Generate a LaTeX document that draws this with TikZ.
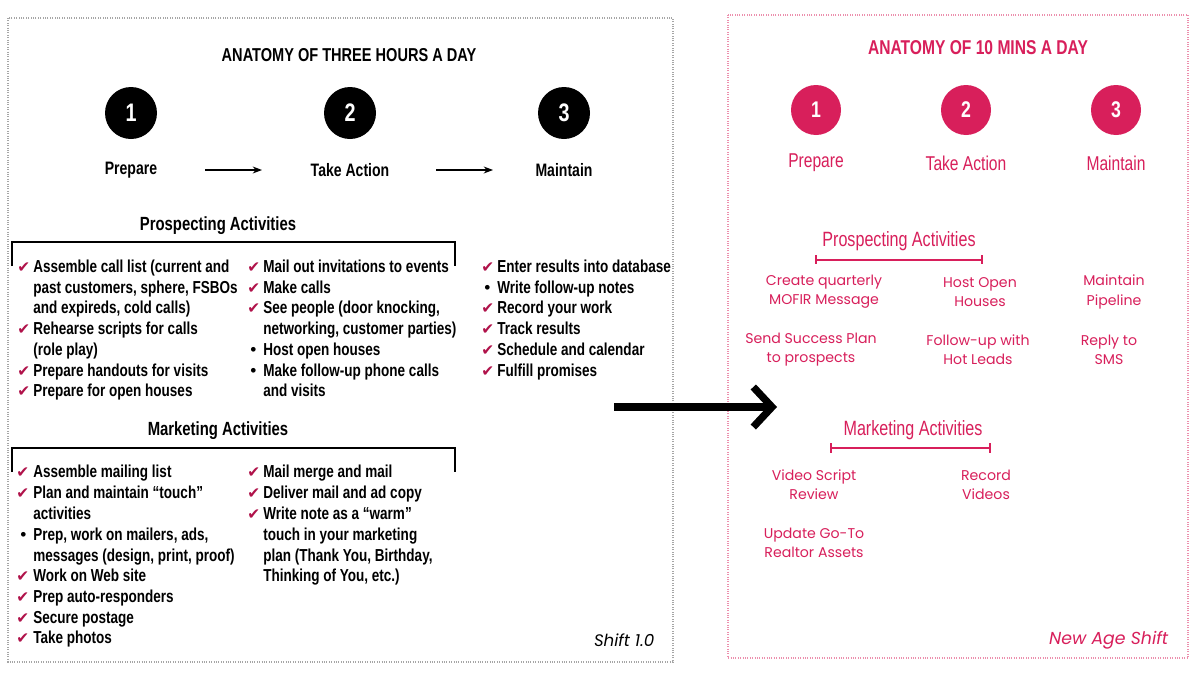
\documentclass[tikz,border=0pt]{standalone}
\usepackage{fontspec}
\setmainfont{Liberation Sans}
\newfontfamily\cond[FakeStretch=0.78]{Liberation Sans}
\newfontfamily\pop{Poppins}
\newfontfamily\dv{DejaVu Sans}
\usetikzlibrary{arrows.meta}
\definecolor{pk}{HTML}{D81F5B}
\definecolor{ck}{HTML}{B0124A}
\tikzset{
 ln/.style={anchor=base west,inner sep=0pt,font=\cond\bfseries\fontsize{13}{15}\selectfont},
 mk/.style={anchor=base west,inner sep=0pt,font=\dv\fontsize{11.5}{12}\selectfont,text=ck},
 bl/.style={anchor=base west,inner sep=0pt,font=\fontsize{13}{14}\selectfont},
 rt/.style={align=center,inner sep=0pt,text=pk,font=\pop\fontsize{10.6}{14.4}\selectfont},
 bk/.style={line width=1.3pt},
}
\begin{document}
\begin{tikzpicture}[x=0.75pt,y=-0.75pt]
\useasboundingbox (0,0) rectangle (1200,675);
\fill[white] (0,0) rectangle (1200,675);
\draw[gray!70,densely dotted,line width=0.8pt] (8,18) rectangle (673,662);
\draw[pk!50,densely dotted,line width=0.8pt] (728,15) rectangle (1188,658);
% left header
\node[font=\cond\bfseries\fontsize{14}{16}\selectfont] (t1) at (349,55) {ANATOMY OF THREE HOURS A DAY};
\foreach \x/\n/\l [count=\i] in {131/1/Prepare,350/2/Take Action,564/3/Maintain}{
 \node[circle,fill=black,minimum size=39pt,inner sep=0,text=white,font=\cond\bfseries\fontsize{19}{20}\selectfont] (c\i) at (\x,113) {\n};
 \node[font=\cond\bfseries\fontsize{13.5}{15}\selectfont] (l\i) at (\x,170) {\l};
}
\draw[-{Stealth[length=7pt]},line width=0.9pt] (205,170) -- (262,170);
\draw[-{Stealth[length=7pt]},line width=0.9pt] (436,170) -- (493,170);
\node[font=\cond\bfseries\fontsize{14.3}{16}\selectfont] (pa) at (218,226) {Prospecting Activities};
\draw[bk] (12,266) -- (12,242) -- (455,242) -- (455,266);
\node[font=\cond\bfseries\fontsize{14.3}{16}\selectfont] (ma) at (218,431) {Marketing Activities};
\draw[bk] (12,472) -- (12,448) -- (455,448) -- (455,472);
% prospecting col 1
\foreach \y/\t/\m [count=\i] in {
272/{Assemble call list (current and}/1,
293/{past customers, sphere, FSBOs}/0,
313/{and expireds, cold calls)}/0,
334/{Rehearse scripts for calls}/1,
355/{(role play)}/0,
376/{Prepare handouts for visits}/1,
396/{Prepare for open houses}/1}{
 \node[ln] (pa\i) at (33,\y) {\t};
 \ifnum\m=1 \node[mk] (pk\i) at (17,\y) {✔};\fi
}
\foreach \y/\t/\m [count=\i] in {
272/{Mail out invitations to events}/1,
293/{Make calls}/1,
313/{See people (door knocking,}/1,
334/{networking, customer parties)}/0,
355/{Host open houses}/2,
376/{Make follow-up phone calls}/2,
396/{and visits}/0}{
 \node[ln] (pb\i) at (263,\y) {\t};
 \ifnum\m=1 \node[mk] (pbk\i) at (247,\y) {✔};\fi
 \ifnum\m=2 \node[bl] (pbb\i) at (250,\y) {•};\fi
}
\foreach \y/\t/\m [count=\i] in {
272/{Enter results into database}/1,
293/{Write follow-up notes}/2,
313/{Record your work}/1,
334/{Track results}/1,
355/{Schedule and calendar}/1,
376/{Fulfill promises}/1}{
 \node[ln] (pc\i) at (497,\y) {\t};
 \ifnum\m=1 \node[mk] (pck\i) at (481,\y) {✔};\fi
 \ifnum\m=2 \node[bl] (pcb\i) at (484,\y) {•};\fi
}
% marketing
\foreach \y/\t/\m [count=\i] in {
477/{Assemble mailing list}/1,
498/{Plan and maintain “touch”}/1,
519/{activities}/0,
540/{Prep, work on mailers, ads,}/2,
561/{messages (design, print, proof)}/0,
581/{Work on Web site}/1,
602/{Prep auto-responders}/1,
623/{Secure postage}/1,
643/{Take photos}/1}{
 \node[ln] (ma\i) at (33,\y) {\t};
 \ifnum\m=1 \node[mk] (mak\i) at (16,\y) {✔};\fi
 \ifnum\m=2 \node[bl] (mab\i) at (20,\y) {•};\fi
}
\foreach \y/\t/\m [count=\i] in {
477/{Mail merge and mail}/1,
498/{Deliver mail and ad copy}/1,
519/{Write note as a “warm”}/1,
540/{touch in your marketing}/0,
561/{plan (Thank You, Birthday,}/0,
581/{Thinking of You, etc.)}/0}{
 \node[ln] (mb\i) at (263,\y) {\t};
 \ifnum\m=1 \node[mk] (mbk\i) at (247,\y) {✔};\fi
}
\node[anchor=east,font=\pop\itshape\fontsize{12.5}{14}\selectfont] (s1) at (659,640) {Shift 1.0};
% big arrow
\coordinate (a1) at (614,407); \coordinate (a2) at (777,407);
\draw[line width=5.5pt,-{Straight Barb[length=14pt,width=30pt,line width=5.5pt]}] (a1) -- (a2);
% right panel
\node[text=pk,font=\cond\bfseries\fontsize{15}{17}\selectfont] (t2) at (978,48) {ANATOMY OF 10 MINS A DAY};
\foreach \x/\n/\l [count=\i] in {816/1/Prepare,966/2/Take Action,1116/3/Maintain}{
 \node[circle,fill=pk,minimum size=37.5pt,inner sep=0,text=white,font=\cond\bfseries\fontsize{17}{18}\selectfont] (r\i) at (\x,110) {\n};
 \node[text=pk,font=\cond\fontsize{15}{17}\selectfont] (rl\i) at (\x,163) {\l};
}
\node[text=pk,font=\cond\fontsize{15.5}{17}\selectfont] (rp) at (899,241) {Prospecting Activities};
\draw[pk,line width=1.2pt] (816,255) -- (816,264) (816,260) -- (982,260) (982,255) -- (982,264);
\node[rt] (r11) at (824,292) {Create quarterly\\MOFIR Message};
\node[rt] (r12) at (980,292) {Host Open\\Houses};
\node[rt] (r13) at (1114,292) {Maintain\\Pipeline};
\node[rt] (r21) at (811,350) {Send Success Plan\\to prospects};
\node[rt] (r22) at (978,350) {Follow-up with\\Hot Leads};
\node[rt] (r23) at (1109,350) {Reply to\\SMS};
\node[text=pk,font=\cond\fontsize{15.5}{17}\selectfont] (rm) at (913,430) {Marketing Activities};
\draw[pk,line width=1.2pt] (831,443) -- (831,453) (831,448) -- (990,448) (990,443) -- (990,453);
\node[rt] (m11) at (814,485) {Video Script\\Review};
\node[rt] (m12) at (986,485) {Record\\Videos};
\node[rt] (m21) at (814,543) {Update Go-To\\Realtor Assets};
\node[anchor=east,text=pk,font=\pop\itshape\fontsize{13}{15}\selectfont] (s2) at (1173,640) {New Age Shift};
\end{tikzpicture}
\end{document}
